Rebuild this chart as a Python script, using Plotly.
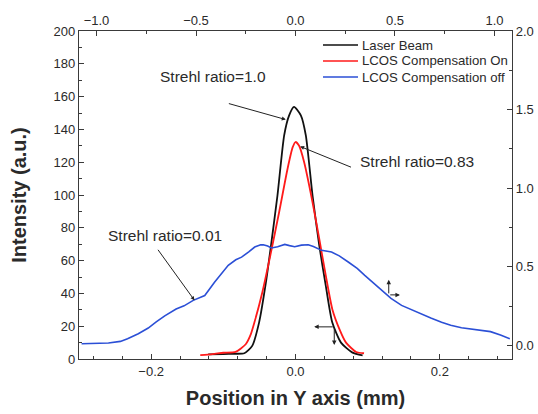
import plotly.graph_objects as go

# ---- data -------------------------------------------------------------
# Laser beam profile (bottom / left axes)
laser_x = [-0.121, -0.100, -0.085, -0.071, -0.060, -0.0505, -0.041, -0.034,
           -0.025, -0.0157, -0.0088, -0.002, 0.0074, 0.0143, 0.0236, 0.033,
           0.042, 0.051, 0.063, 0.079, 0.093]
laser_y = [2.8, 3.0, 3.2, 3.5, 8.0, 22.2, 46.7, 69.0,
           99.7, 136.4, 148.6, 153.7, 148.6, 136.4, 99.7, 69.0,
           44.6, 22.2, 10.0, 3.9, 2.2]

# LCOS compensation on (bottom / left axes)
on_x = [-0.132, -0.115, -0.100, -0.083, -0.069, -0.062, -0.057, -0.046,
        -0.034, -0.0227, -0.011, -0.004, 0.000, 0.005, 0.012, 0.0236,
        0.033, 0.042, 0.051, 0.061, 0.070, 0.084, 0.095]
on_y = [2.4, 3.0, 3.8, 4.3, 9.0, 15.0, 22.2, 40.6,
        65.0, 89.5, 116.0, 129.0, 132.3, 130.0, 120.0, 95.6,
        73.0, 50.8, 30.4, 18.1, 10.0, 4.3, 3.5]

# LCOS compensation off (top / right axes)
off_x = [-1.075, -1.01, -0.94, -0.88, -0.844, -0.79, -0.74, -0.70, -0.657,
         -0.60, -0.56, -0.514, -0.456, -0.406, -0.338, -0.30, -0.271, -0.235,
         -0.205, -0.175, -0.162, -0.14, -0.121, -0.09, -0.054, -0.03, -0.004,
         0.03, 0.064, 0.09, 0.131, 0.181, 0.22, 0.265, 0.31, 0.348, 0.39,
         0.432, 0.48, 0.533, 0.58, 0.633, 0.68, 0.734, 0.78, 0.834, 0.885,
         0.935, 0.98, 1.03, 1.077]
off_y = [0.011, 0.012, 0.016, 0.026, 0.043, 0.075, 0.111, 0.150, 0.188,
         0.232, 0.252, 0.287, 0.318, 0.403, 0.510, 0.545, 0.562, 0.595,
         0.626, 0.640, 0.641, 0.632, 0.620, 0.628, 0.643, 0.635, 0.628,
         0.638, 0.641, 0.630, 0.605, 0.594, 0.570, 0.531, 0.490, 0.446, 0.400,
         0.350, 0.300, 0.255, 0.228, 0.202, 0.175, 0.148, 0.128, 0.113, 0.104,
         0.096, 0.088, 0.066, 0.043]

series_names = ["Laser Beam", "LCOS Compensation On", "LCOS Compensation off"]
series_colors = ["#111111", "#ff1a1a", "#2b4fd6"]

FONT = "Liberation Sans, Arial, sans-serif"
AX = "#3a3a3a"
TXT = "#2a2a2a"

fig = go.Figure()
fig.add_trace(go.Scatter(x=laser_x, y=laser_y, mode="lines", name=series_names[0],
                         line=dict(color=series_colors[0], width=1.8, shape="spline", smoothing=0.6),
                         xaxis="x", yaxis="y", showlegend=False))
fig.add_trace(go.Scatter(x=on_x, y=on_y, mode="lines", name=series_names[1],
                         line=dict(color=series_colors[1], width=1.8, shape="spline", smoothing=0.6),
                         xaxis="x", yaxis="y", showlegend=False))
fig.add_trace(go.Scatter(x=off_x, y=off_y, mode="lines", name=series_names[2],
                         line=dict(color=series_colors[2], width=1.6),
                         xaxis="x2", yaxis="y2", showlegend=False))

common = dict(showline=True, linecolor=AX, linewidth=1.2, ticks="inside",
              tickcolor=AX, tickwidth=1.1, ticklen=5, showgrid=False,
              zeroline=False, automargin=False,
              tickfont=dict(family=FONT, size=13, color=TXT))

fig.update_layout(
    width=538, height=414,
    margin=dict(l=79, r=26, t=31, b=55, autoexpand=False),
    paper_bgcolor="white", plot_bgcolor="white",
    font=dict(family=FONT, color=TXT),
    xaxis=dict(range=[-0.3, 0.3], tick0=0, dtick=0.2, tickformat=".1f",
               minor=dict(ticks="inside", dtick=0.04, ticklen=3, tickcolor=AX),
               title=dict(text="<b>Position in Y axis (mm)</b>",
                          font=dict(family=FONT, size=20, color=TXT), standoff=13),
               **common),
    yaxis=dict(range=[0, 200], tick0=0, dtick=20,
               minor=dict(ticks="inside", dtick=10, ticklen=3, tickcolor=AX),
               title=dict(text="<b>Intensity (a.u.)</b>",
                          font=dict(family=FONT, size=20, color=TXT), standoff=21),
               **common),
    xaxis2=dict(range=[-1.088, 1.088], tick0=0, dtick=0.5, tickformat=".1f",
                overlaying="x", side="top", anchor="y2",
                minor=dict(ticks="inside", dtick=0.25, ticklen=3, tickcolor=AX),
                **common),
    yaxis2=dict(range=[-0.086, 2.0], tick0=0, dtick=0.5, tickformat=".1f",
                overlaying="y", side="right", anchor="x2",
                minor=dict(ticks="inside", dtick=0.25, ticklen=3, tickcolor=AX),
                **common),
)

# ---- legend drawn by hand (top right, inside the frame) --------------
def px_x(p):
    return (p - 79) / 433.0

def px_y(p):
    return (359 - p) / 328.0

leg_rows = [45, 61, 77]
for name, color, row in zip(series_names, series_colors, leg_rows):
    fig.add_shape(type="line", xref="paper", yref="paper",
                  x0=px_x(323), x1=px_x(358), y0=px_y(row), y1=px_y(row),
                  line=dict(color=color, width=1.6))
    fig.add_annotation(xref="paper", yref="paper", x=px_x(360), y=px_y(row),
                       xanchor="left", yanchor="middle", showarrow=False,
                       text=name, font=dict(family=FONT, size=13.2, color=TXT))

# ---- Strehl ratio labels ---------------------------------------------
labels = [("Strehl ratio=1.0", -0.115, 172.5, "center"),
          ("Strehl ratio=0.83", 0.086, 120.5, "left"),
          ("Strehl ratio=0.01", -0.1806, 75.2, "center")]
for text, lx, ly, anchor in labels:
    fig.add_annotation(x=lx, y=ly, xref="x", yref="y", text=text, showarrow=False,
                       xanchor=anchor, font=dict(family=FONT, size=15.5, color=TXT))

# pointer lines: (head_x, head_y, tail_x, tail_y)
pointers = [(-0.0135, 146.0, -0.0944, 156.0),
            (0.0065, 129.6, 0.079, 116.6),
            (-0.140, 35.8, -0.192, 67.5)]
for hx, hy, tx, ty in pointers:
    fig.add_annotation(x=hx, y=hy, ax=tx, ay=ty, xref="x", yref="y",
                       axref="x", ayref="y", text="", showarrow=True,
                       arrowhead=2, arrowsize=0.8, arrowwidth=1, arrowcolor="#222")

# axis-assignment arrows
axis_arrows = [
    (0.1292, 48.3, 0.1292, 39.1),   # blue -> up (right axis)
    (0.1447, 39.1, 0.1292, 39.1),   # blue -> right (top axis)
    (0.0259, 19.6, 0.0537, 19.6),   # laser/on -> left axis
    (0.0537, 8.6, 0.0537, 19.6),    # laser/on -> bottom axis
]
for hx, hy, tx, ty in axis_arrows:
    fig.add_annotation(x=hx, y=hy, ax=tx, ay=ty, xref="x", yref="y",
                       axref="x", ayref="y", text="", showarrow=True,
                       arrowhead=2, arrowsize=0.9, arrowwidth=1, arrowcolor="#222")

fig.write_html("out.html")
